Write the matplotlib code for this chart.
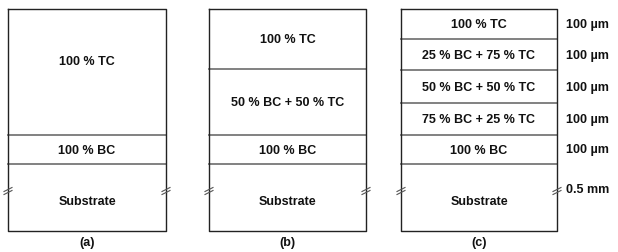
import matplotlib
matplotlib.use("Agg")
import matplotlib.pyplot as plt

plt.rcParams['font.family'] = ['Liberation Sans', 'DejaVu Sans']

# layer boundaries (pixel rows, top to bottom) and labels for each panel
panel_x = [(8, 166), (209, 366), (401, 557)]
panel_tags = ["(a)", "(b)", "(c)"]
bounds_a = [10, 136, 165, 232]
bounds_b = [10, 70, 136, 165, 232]
bounds_c = [10, 40, 71, 104, 136, 165, 232]
labels_a = ["100 % TC", "100 % BC", "Substrate"]
labels_b = ["100 % TC", "50 % BC + 50 % TC", "100 % BC", "Substrate"]
labels_c = ["100 % TC", "25 % BC + 75 % TC", "50 % BC + 50 % TC",
            "75 % BC + 25 % TC", "100 % BC", "Substrate"]
thickness_c = ["100 µm", "100 µm", "100 µm", "100 µm", "100 µm", "0.5 mm"]

fig = plt.figure(figsize=(6.18, 2.53), dpi=100)
ax = fig.add_axes([0, 0, 1, 1])
ax.set_xlim(0, 618)
ax.set_ylim(253, 0)
ax.axis('off')

FS = 9


def draw_panel(x0, x1, bounds, labels, tag):
    top, bot = bounds[0], bounds[-1]
    # inner boundaries
    for y in bounds[1:-1]:
        ax.plot([x0, x1], [y, y], color="#777777", lw=1.3)
    ax.plot([x0, x1, x1, x0, x0], [top, top, bot, bot, top],
            color="#222222", lw=1.0)
    for i, lab in enumerate(labels):
        yc = (bounds[i] + bounds[i + 1]) / 2
        if lab == "Substrate":
            yc = 202
        elif i == 0 and len(labels) == 3:
            yc = 62
        ax.text((x0 + x1) / 2, yc, lab, ha="center", va="center",
                fontsize=FS, fontweight="bold", color="#111111")
    # break marks on substrate edges
    for xe in (x0, x1):
        for dy in (-1.5, 1.5):
            ax.plot([xe - 4, xe + 4], [192 + dy + 2, 192 + dy - 2],
                    color="#555555", lw=0.8)
    ax.text((x0 + x1) / 2, 243, tag, ha="center", va="center",
            fontsize=FS, fontweight="bold", color="#111111")


draw_panel(*panel_x[0], bounds_a, labels_a, panel_tags[0])
draw_panel(*panel_x[1], bounds_b, labels_b, panel_tags[1])
draw_panel(*panel_x[2], bounds_c, labels_c, panel_tags[2])

# thickness labels next to panel (c)
for i, t in enumerate(thickness_c):
    yc = (bounds_c[i] + bounds_c[i + 1]) / 2
    if t == "0.5 mm":
        yc = 190
    ax.text(566, yc, t, ha="left", va="center", fontsize=FS,
            fontweight="bold", color="#111111")

fig.savefig("out.png", dpi=100)
